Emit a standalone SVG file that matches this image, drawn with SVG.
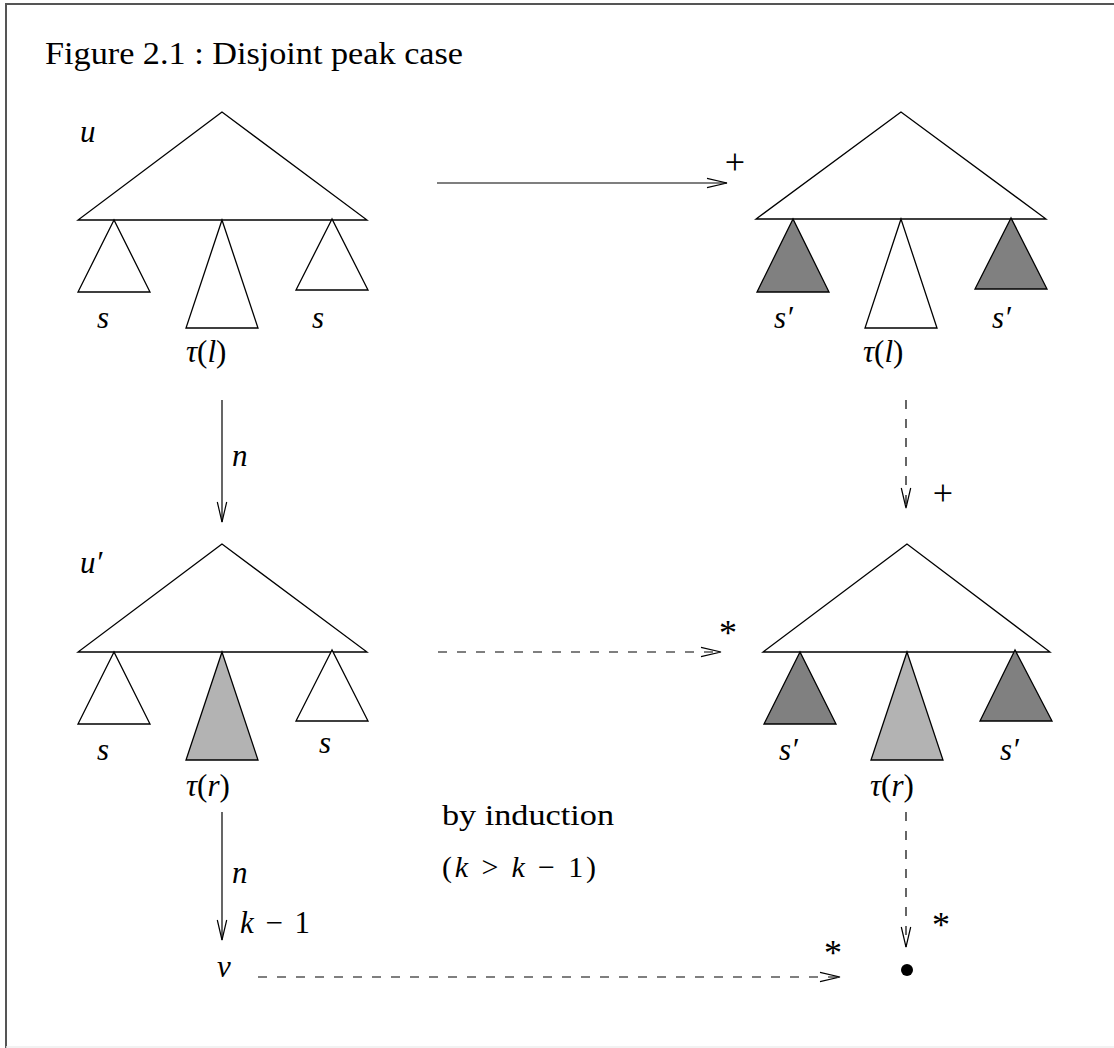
<svg xmlns="http://www.w3.org/2000/svg" width="1114" height="1048" viewBox="0 0 1114 1048">
<defs>
<style>
.tri{stroke:#000;stroke-width:1.3;stroke-linejoin:miter;fill:#fff}
.dark{fill:#808080}
.light{fill:#b3b3b3}
.ln{stroke:#000;stroke-width:1.2;fill:none}
.dash{stroke-dasharray:9 10}
.t{font-family:"Liberation Serif","Times New Roman",serif;font-size:30px;fill:#000}
.m{font-family:"Liberation Serif","Times New Roman",serif;font-size:31px;font-style:italic;fill:#000}
.up{font-style:normal}
.op{font-family:"Liberation Serif","Times New Roman",serif;font-size:36px;fill:#000;text-anchor:middle}
</style>
<marker id="ah" markerUnits="userSpaceOnUse" markerWidth="24" markerHeight="14" refX="21" refY="7" orient="auto" overflow="visible">
<path d="M1,2.3 L21,7 L1,11.7" fill="none" stroke="#000" stroke-width="1.2" stroke-dasharray="none"/>
</marker>
</defs>
<rect width="1114" height="1048" fill="#fff"/>
<g id="frame">
<line x1="5" y1="4" x2="1114" y2="4" stroke="#555" stroke-width="2"/>
<line x1="6" y1="3" x2="6" y2="1048" stroke="#555" stroke-width="2"/>
<line x1="6" y1="1047" x2="1114" y2="1047" stroke="#eee" stroke-width="1.5"/>
</g>
<text id="title" class="t" x="45" y="64" textLength="418" lengthAdjust="spacingAndGlyphs" style="font-size:32px">Figure 2.1 : Disjoint peak case</text>

<g id="tree-u">
<polygon class="tri" points="222,112 78,220 367,220"/>
<polygon class="tri" points="114,220 78,292 150,292"/>
<polygon class="tri" points="222,220 186,328 258,328"/>
<polygon class="tri" points="332,219 296,290 368,290"/>
<text class="m" x="80" y="142">u</text>
<text class="m" x="97" y="328">s</text>
<text class="m" x="312" y="328">s</text>
<text class="m" x="186" y="362">τ<tspan class="up">(</tspan>l<tspan class="up">)</tspan></text>
</g>

<g id="tree-u-plus">
<polygon class="tri" points="901,112 756,219 1046,219"/>
<polygon class="tri dark" points="793,219 757,292 829,292"/>
<polygon class="tri" points="901,219 865,328 937,328"/>
<polygon class="tri dark" points="1011,218 975,289 1047,289"/>
<text class="m" x="774" y="328">s′</text>
<text class="m" x="992" y="328">s′</text>
<text class="m" x="863" y="362">τ<tspan class="up">(</tspan>l<tspan class="up">)</tspan></text>
</g>

<g id="tree-u-prime">
<polygon class="tri" points="222,544 78,652 367,652"/>
<polygon class="tri" points="114,652 78,724 150,724"/>
<polygon class="tri light" points="222,652 186,760 258,760"/>
<polygon class="tri" points="332,650 296,721 368,721"/>
<text class="m" x="80" y="573">u′</text>
<text class="m" x="97" y="760">s</text>
<text class="m" x="319" y="753">s</text>
<text class="m" x="186" y="796">τ<tspan class="up">(</tspan>r<tspan class="up">)</tspan></text>
</g>

<g id="tree-result">
<polygon class="tri" points="907,544 763,652 1050,652"/>
<polygon class="tri dark" points="800,652 764,724 836,724"/>
<polygon class="tri light" points="907,652 871,760 943,760"/>
<polygon class="tri dark" points="1015,650 980,721 1052,721"/>
<text class="m" x="779" y="760">s′</text>
<text class="m" x="1000" y="760">s′</text>
<text class="m" x="870" y="796">τ<tspan class="up">(</tspan>r<tspan class="up">)</tspan></text>
</g>

<g id="node-v">
<text class="m" x="217" y="977">v</text>
</g>

<g id="node-dot">
<circle cx="907" cy="970" r="6" fill="#000"/>
</g>

<g id="connectors">
<line class="ln" x1="437" y1="183" x2="727" y2="183" marker-end="url(#ah)"/>
<line class="ln" x1="222" y1="400" x2="222" y2="522" marker-end="url(#ah)"/>
<line class="ln dash" x1="906" y1="400" x2="906" y2="508" marker-end="url(#ah)"/>
<line class="ln dash" x1="438" y1="652" x2="721" y2="652" marker-end="url(#ah)"/>
<line class="ln" x1="222" y1="812" x2="222" y2="940" marker-end="url(#ah)"/>
<line class="ln dash" x1="906" y1="812" x2="906" y2="947" marker-end="url(#ah)"/>
<line class="ln dash" x1="258" y1="977" x2="840" y2="977" marker-end="url(#ah)"/>
</g>

<g id="connector-labels">
<text class="op" x="735" y="174">+</text>
<text class="m" x="232" y="466">n</text>
<text class="op" x="943" y="505">+</text>
<text class="op" x="728" y="645">*</text>
<text class="m" x="232" y="883">n</text>
<text class="m" x="240" y="933" textLength="70">k <tspan class="up">− 1</tspan></text>
<text class="op" x="833" y="965">*</text>
<text class="op" x="941" y="937">*</text>
</g>

<g id="note">
<text class="t" x="442" y="825" textLength="172" lengthAdjust="spacingAndGlyphs">by induction</text>
<text class="t" x="442" y="877" textLength="154"><tspan>(</tspan><tspan font-style="italic">k</tspan> &gt; <tspan font-style="italic">k</tspan> − 1)</text>
</g>
</svg>
